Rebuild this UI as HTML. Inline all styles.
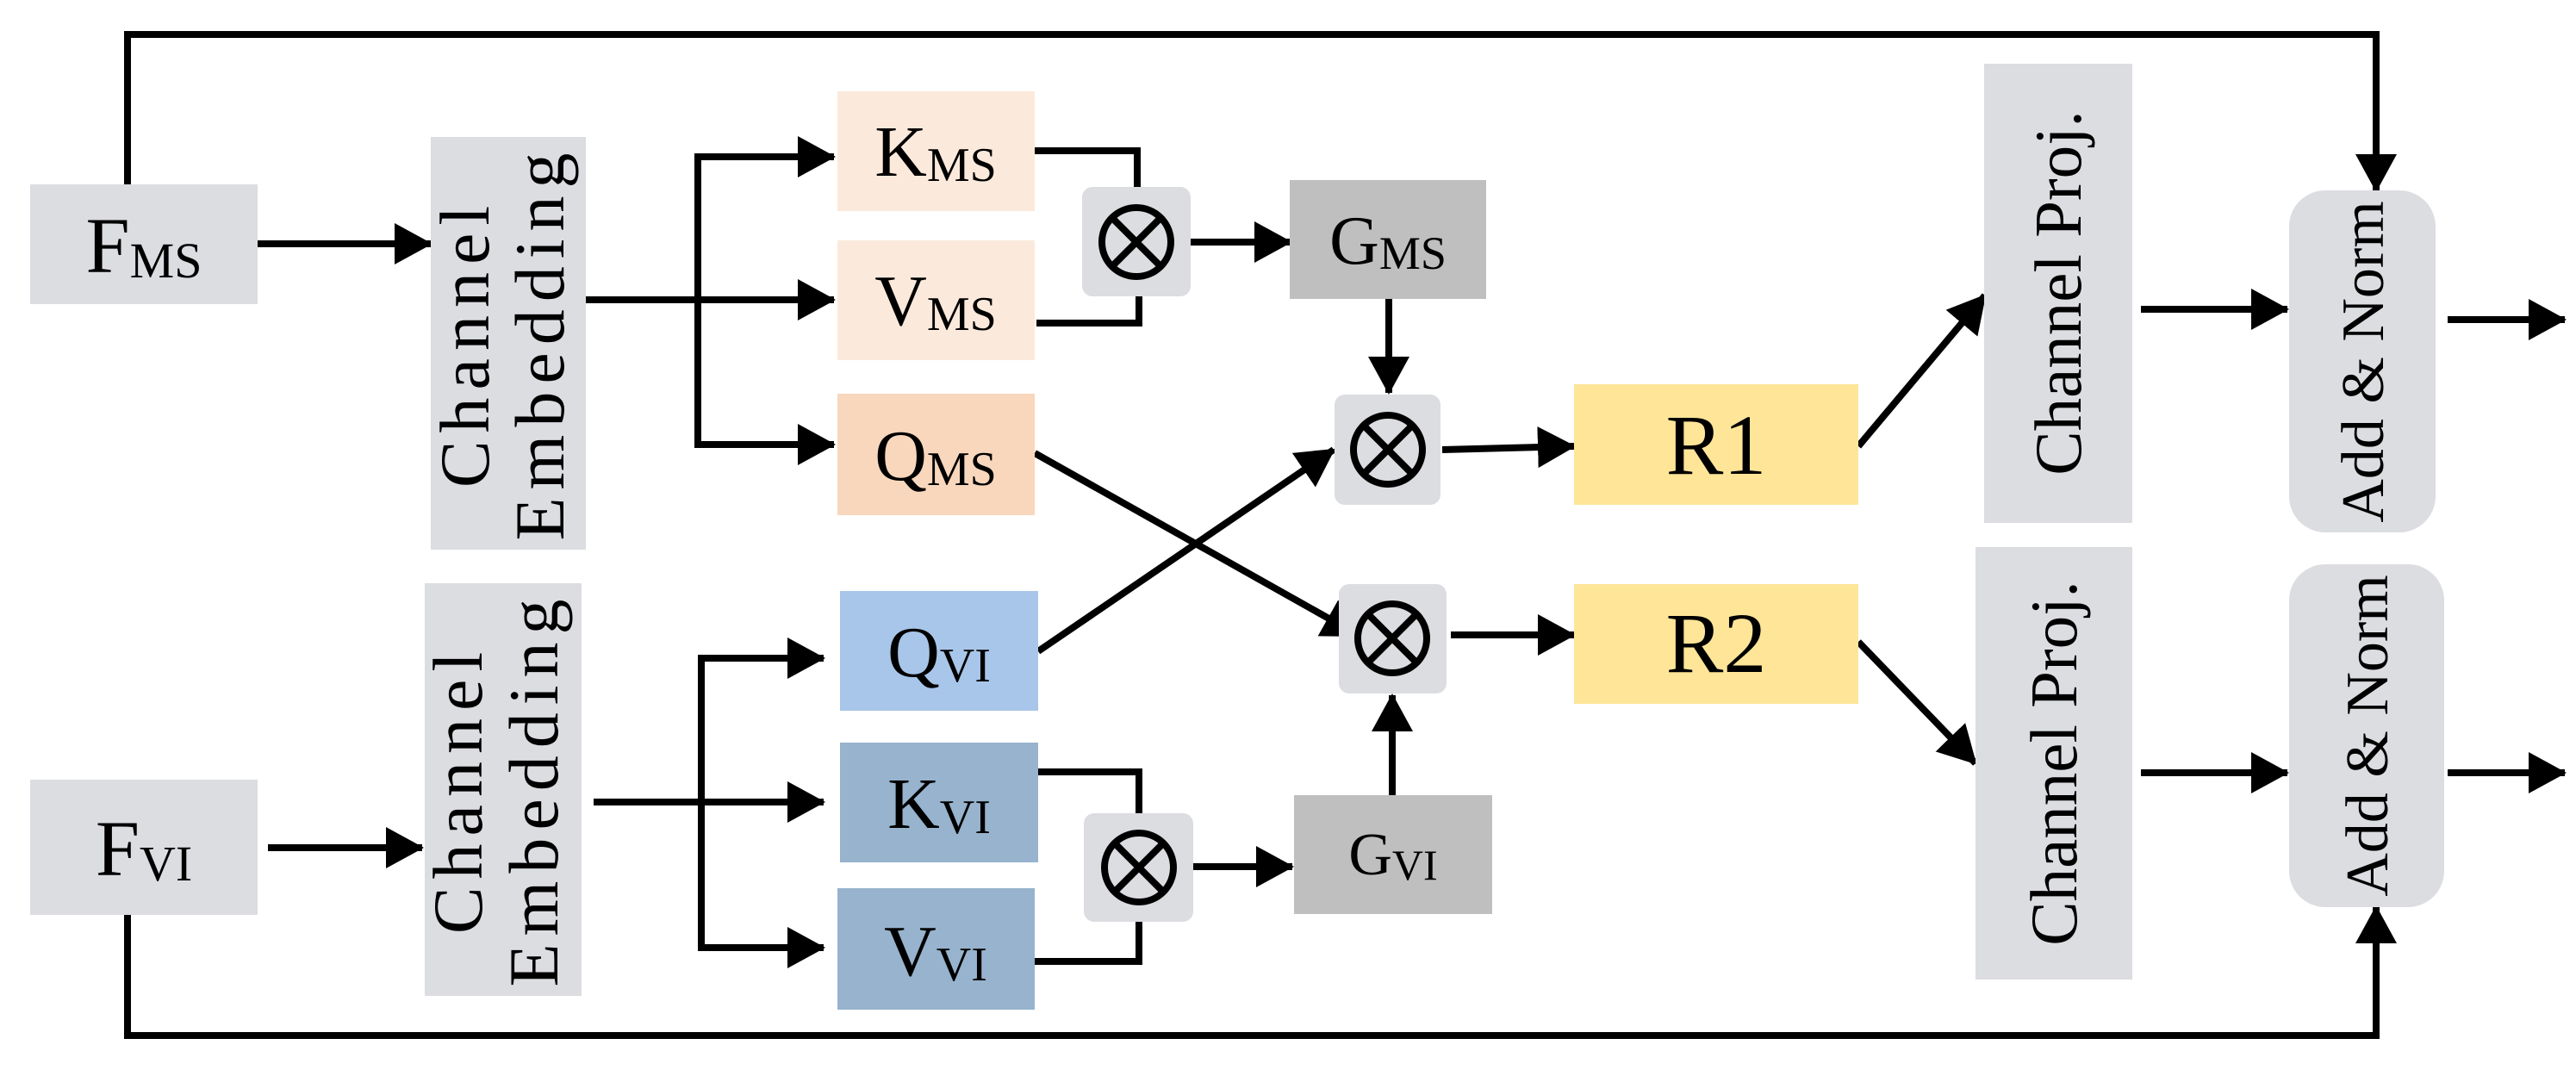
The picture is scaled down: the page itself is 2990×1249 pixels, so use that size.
<!DOCTYPE html>
<html><head><meta charset="utf-8"><style>
html,body{margin:0;padding:0;background:#fff;}
svg{display:block;}
text{font-family:"Liberation Serif",serif;fill:#000;}
</style></head><body>
<svg width="2990" height="1249" viewBox="0 0 2990 1249" xmlns="http://www.w3.org/2000/svg">
<defs>
<marker id="a" markerUnits="userSpaceOnUse" markerWidth="44" markerHeight="48" refX="42" refY="24" orient="auto">
<path d="M0,0 L44,24 L0,48 Z" fill="#000"/>
</marker>
</defs>
<g fill="none" stroke="#000" stroke-width="8">
<polyline points="148,214 148,40 2758,40 2758,221" marker-end="url(#a)"/>
<polyline points="148,1062 148,1202 2758,1202 2758,1053" marker-end="url(#a)"/>
<line x1="299" y1="283" x2="500" y2="283" marker-end="url(#a)"/>
<line x1="311" y1="984" x2="490" y2="984" marker-end="url(#a)"/>
<line x1="680" y1="348" x2="968" y2="348" marker-end="url(#a)"/>
<polyline points="968,182 810,182 810,516 968,516"/>
<line x1="810" y1="182" x2="968" y2="182" marker-end="url(#a)"/>
<line x1="810" y1="516" x2="968" y2="516" marker-end="url(#a)"/>
<line x1="689" y1="931" x2="956" y2="931" marker-end="url(#a)"/>
<polyline points="956,764 814,764 814,1100 956,1100"/>
<line x1="814" y1="764" x2="956" y2="764" marker-end="url(#a)"/>
<line x1="814" y1="1100" x2="956" y2="1100" marker-end="url(#a)"/>
<polyline points="1201,175 1320,175 1320,217"/>
<polyline points="1203,375 1322,375 1322,344"/>
<polyline points="1205,896 1322,896 1322,944"/>
<polyline points="1201,1116 1322,1116 1322,1070"/>
<line x1="1382" y1="281" x2="1498" y2="281" marker-end="url(#a)"/>
<line x1="1385" y1="1006" x2="1500" y2="1006" marker-end="url(#a)"/>
<line x1="1612" y1="347" x2="1612" y2="456" marker-end="url(#a)"/>
<line x1="1616" y1="923" x2="1616" y2="807" marker-end="url(#a)"/>
<line x1="1205" y1="756" x2="1548" y2="522" marker-end="url(#a)"/>
<line x1="1201" y1="526" x2="1578" y2="738" marker-end="url(#a)"/>
<line x1="1674" y1="522" x2="1827" y2="518" marker-end="url(#a)"/>
<line x1="1684" y1="737" x2="1827" y2="737" marker-end="url(#a)"/>
<line x1="2157" y1="518" x2="2304" y2="343" marker-end="url(#a)"/>
<line x1="2157" y1="745" x2="2293" y2="886" marker-end="url(#a)"/>
<line x1="2485" y1="359" x2="2655" y2="359" marker-end="url(#a)"/>
<line x1="2485" y1="897" x2="2655" y2="897" marker-end="url(#a)"/>
<line x1="2841" y1="371" x2="2977" y2="371" marker-end="url(#a)"/>
<line x1="2841" y1="897" x2="2977" y2="897" marker-end="url(#a)"/>
</g>
<rect x="35" y="214" width="264" height="139" fill="#dcdde1"/>
<rect x="35" y="905" width="264" height="157" fill="#dcdde1"/>
<rect x="500" y="159" width="180" height="479" fill="#dcdde1"/>
<rect x="493" y="677" width="182" height="479" fill="#dcdde1"/>
<rect x="972" y="106" width="229" height="139" fill="#fbeadc"/>
<rect x="972" y="279" width="229" height="139" fill="#fbeadc"/>
<rect x="972" y="457" width="229" height="141" fill="#f8d7bd"/>
<rect x="975" y="686" width="230" height="139" fill="#a8c6e9"/>
<rect x="975" y="862" width="230" height="139" fill="#97b3cd"/>
<rect x="972" y="1031" width="229" height="141" fill="#97b3cd"/>
<rect x="1256" y="217" width="126" height="127" rx="12" fill="#dcdde1"/>
<rect x="1258" y="944" width="127" height="126" rx="12" fill="#dcdde1"/>
<rect x="1549" y="458" width="123" height="128" rx="12" fill="#dcdde1"/>
<rect x="1554" y="678" width="125" height="127" rx="12" fill="#dcdde1"/>
<rect x="1497" y="209" width="228" height="138" fill="#bfbfbf"/>
<rect x="1502" y="923" width="230" height="138" fill="#bfbfbf"/>
<rect x="1827" y="446" width="330" height="140" fill="#fee598"/>
<rect x="1827" y="678" width="330" height="139" fill="#fee598"/>
<rect x="2303" y="74" width="172" height="533" fill="#dcdde1"/>
<rect x="2293" y="635" width="182" height="502" fill="#dcdde1"/>
<rect x="2657" y="221" width="170" height="397" rx="42" fill="#dcdde1"/>
<rect x="2657" y="655" width="180" height="398" rx="42" fill="#dcdde1"/>
<g fill="none" stroke="#000" stroke-width="8">
<circle cx="1319" cy="281" r="40"/><path d="M1291,253 L1347,309 M1347,253 L1291,309"/>
<circle cx="1322" cy="1007" r="40"/><path d="M1294,979 L1350,1035 M1350,979 L1294,1035"/>
<circle cx="1611" cy="522" r="40"/><path d="M1583,494 L1639,550 M1639,494 L1583,550"/>
<circle cx="1616" cy="741" r="40"/><path d="M1588,713 L1644,769 M1644,713 L1588,769"/>
</g>
<text x="167" y="316" text-anchor="middle" font-size="92">F<tspan font-size="58" dy="6">MS</tspan></text>
<text x="167" y="1016" text-anchor="middle" font-size="92">F<tspan font-size="58" dy="6">VI</tspan></text>
<text x="1086" y="204" text-anchor="middle" font-size="84">K<tspan font-size="56" dy="6">MS</tspan></text>
<text x="1086" y="377" text-anchor="middle" font-size="84">V<tspan font-size="56" dy="6">MS</tspan></text>
<text x="1086" y="557" text-anchor="middle" font-size="84">Q<tspan font-size="56" dy="6">MS</tspan></text>
<text x="1090" y="785" text-anchor="middle" font-size="84">Q<tspan font-size="56" dy="6">VI</tspan></text>
<text x="1090" y="961" text-anchor="middle" font-size="84">K<tspan font-size="56" dy="6">VI</tspan></text>
<text x="1086" y="1132" text-anchor="middle" font-size="84">V<tspan font-size="56" dy="6">VI</tspan></text>
<text x="1611" y="306" text-anchor="middle" font-size="80">G<tspan font-size="54" dy="6">MS</tspan></text>
<text x="1617" y="1015" text-anchor="middle" font-size="70">G<tspan font-size="50" dy="6">VI</tspan></text>
<text x="1992" y="550" text-anchor="middle" font-size="100">R1</text>
<text x="1992" y="780" text-anchor="middle" font-size="100">R2</text>
<g font-size="82" text-anchor="middle" letter-spacing="9">
<text transform="translate(567,398) rotate(-90)">Channel</text>
<text transform="translate(654,398) rotate(-90)">Embedding</text>
<text transform="translate(559,916) rotate(-90)">Channel</text>
<text transform="translate(647,916) rotate(-90)">Embedding</text>
</g>
<g font-size="77" text-anchor="middle">
<text transform="translate(2415,340) rotate(-90)">Channel Proj.</text>
<text transform="translate(2410,886) rotate(-90)">Channel Proj.</text>
</g>
<g font-size="70" text-anchor="middle">
<text transform="translate(2766,420) rotate(-90)">Add &amp; Norm</text>
<text transform="translate(2771,854) rotate(-90)">Add &amp; Norm</text>
</g>
</svg>
</body></html>
